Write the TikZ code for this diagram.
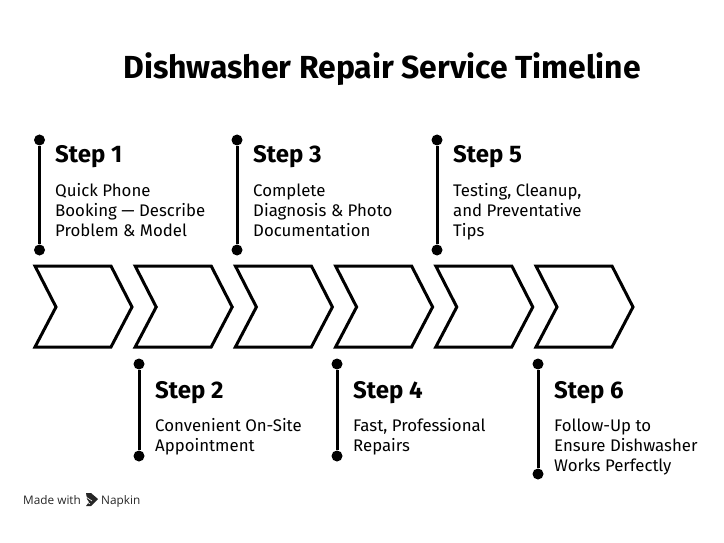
\documentclass[tikz,border=0pt]{standalone}
\usepackage{fontspec}
\setmainfont{Fira Sans}
\newfontfamily\creditfont{Open Sans}
\usetikzlibrary{positioning}
\tikzset{
    dot/.style={circle, fill=black, minimum size=11pt, inner sep=0pt},
    stem/.style={line width=3pt, black},
    heading/.style={anchor=base west, inner sep=0pt, font=\fontsize{24}{26}\selectfont\bfseries},
    body/.style={anchor=north west, inner sep=0pt, align=left, font=\fontsize{16.8}{20}\selectfont, execute at begin node=\strut},
    credit/.style={anchor=base west, inner sep=0pt, text=black!85, font=\fontsize{11.8}{14}\selectfont\creditfont},
    chevron/.pic={
        \draw[line width=3pt, line join=miter, black] (0,0) -- (76,0) -- (97,41) -- (76,81) -- (0,81) -- (21,41) -- cycle;
    }
}
\begin{document}
\begin{tikzpicture}[x=1pt, y=-1pt]
\useasboundingbox (0,0) rectangle (724,543);

% Title
\node[inner sep=0pt, font=\fontsize{31.9}{34}\selectfont\bfseries] (title) at (382,69) {Dishwasher Repair Service Timeline};

% Chevron band
\pic at (35,266) {chevron};
\pic at (135.2,266) {chevron};
\pic at (235.4,266) {chevron};
\pic at (335.6,266) {chevron};
\pic at (435.8,266) {chevron};
\pic at (536,266) {chevron};

% Upper steps
\node[dot] (top1) at (39.5,140) {};
\node[dot] (bot1) at (39.5,250) {};
\draw[stem] (top1) -- (bot1);
\node[heading] (head1) at (55,163) {Step 1};
\node[body] (text1) at (55,183.5) {Quick Phone\\Booking — Describe\\Problem \& Model};

\node[dot] (top3) at (237,140) {};
\node[dot] (bot3) at (237,250) {};
\draw[stem] (top3) -- (bot3);
\node[heading] (head3) at (253,163) {Step 3};
\node[body] (text3) at (253,183.5) {Complete\\Diagnosis \& Photo\\Documentation};

\node[dot] (top5) at (437,140) {};
\node[dot] (bot5) at (437,250) {};
\draw[stem] (top5) -- (bot5);
\node[heading] (head5) at (453,163) {Step 5};
\node[body] (text5) at (453,183.5) {Testing, Cleanup,\\and Preventative\\Tips};

% Lower steps
\node[dot] (top2) at (139,364) {};
\node[dot] (bot2) at (139,456) {};
\draw[stem] (top2) -- (bot2);
\node[heading] (head2) at (155,398) {Step 2};
\node[body] (text2) at (155,418.5) {Convenient On-Site\\Appointment};

\node[dot] (top4) at (337,364) {};
\node[dot] (bot4) at (337,456) {};
\draw[stem] (top4) -- (bot4);
\node[heading] (head4) at (353,398) {Step 4};
\node[body] (text4) at (353,418.5) {Fast, Professional\\Repairs};

\node[dot] (top6) at (538,364) {};
\node[dot] (bot6) at (538,474) {};
\draw[stem] (top6) -- (bot6);
\node[heading] (head6) at (554,398) {Step 6};
\node[body] (text6) at (554,418.5) {Follow-Up to\\Ensure Dishwasher\\Works Perfectly};

% Credit line
\node[credit] (made) at (23,504) {Made with};
\fill[black!85] (86,493) -- (91,493) -- (98,499) -- (91,506) -- (86,506) -- (89,502) -- (87,499) -- cycle;
\draw[white, line width=0.6pt] (86,497) -- (92,501);
\draw[white, line width=0.6pt] (86,501) -- (90,504);
\node[credit] (napkin) at (101,504) {Napkin};
\end{tikzpicture}
\end{document}
